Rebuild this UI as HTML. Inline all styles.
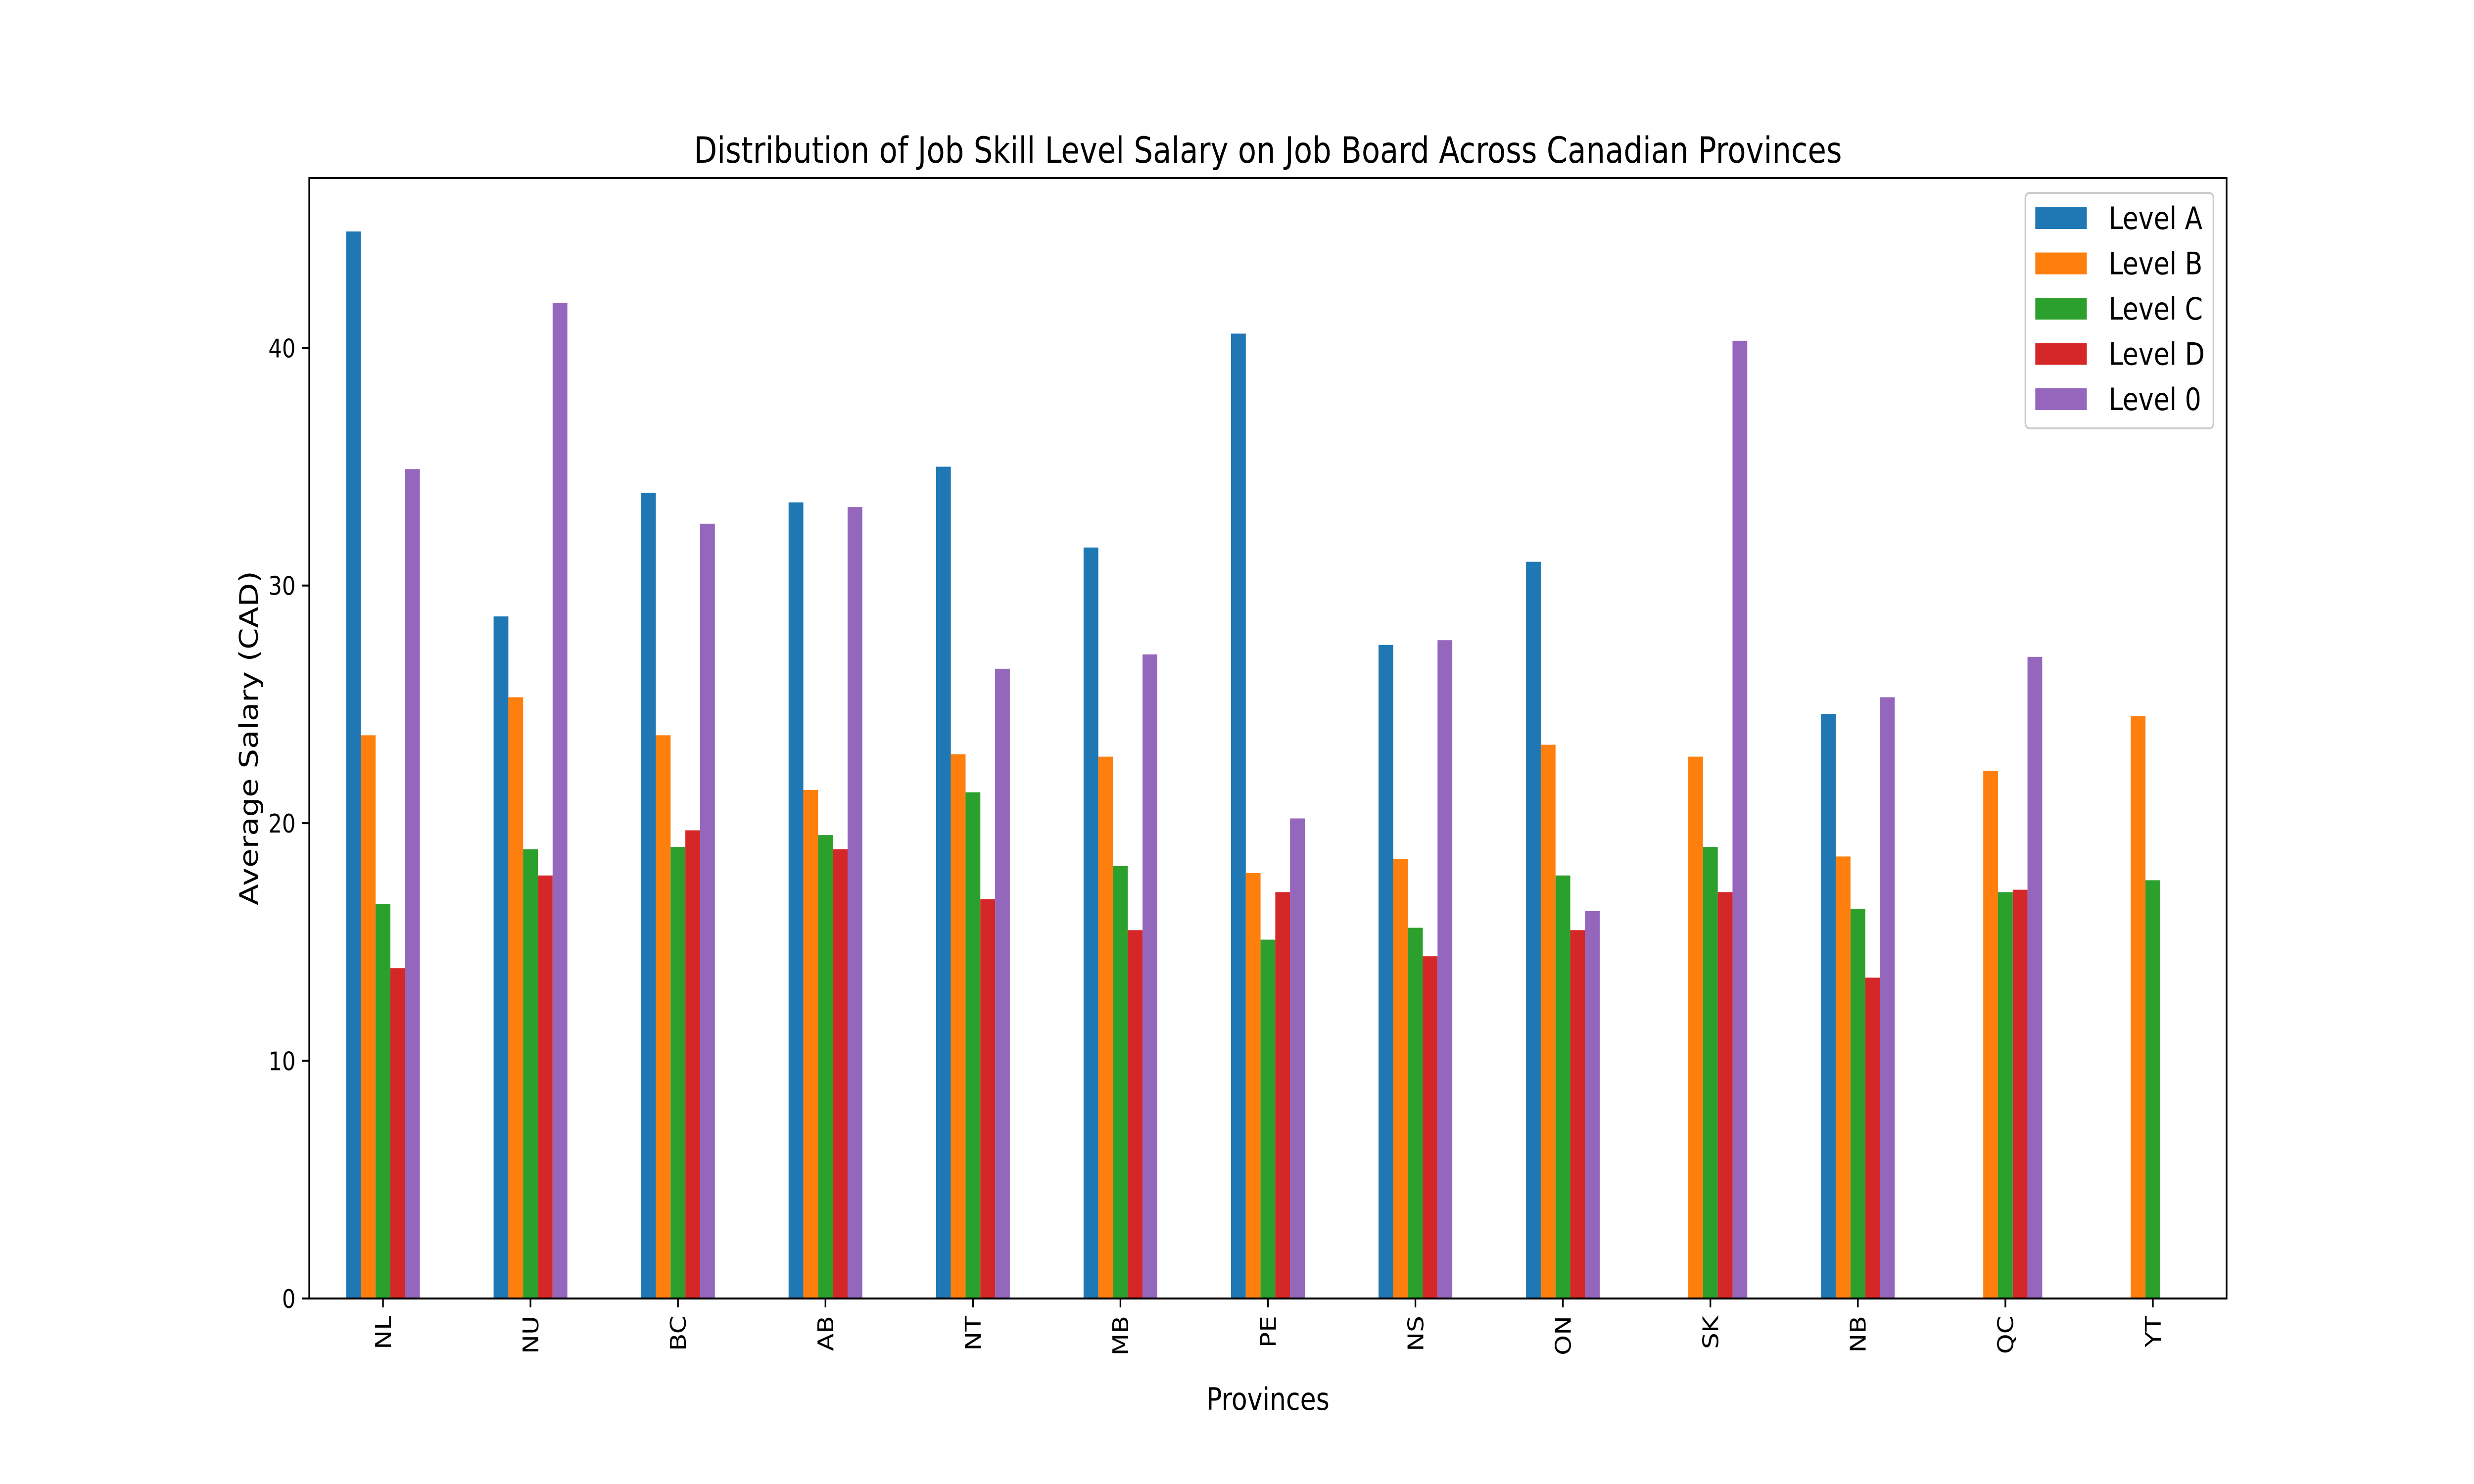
<!DOCTYPE html>
<html><head><meta charset="utf-8"><style>
html,body{margin:0;padding:0;background:#fff;width:100%;height:100%;overflow:hidden;}
svg{display:block;width:100vw;height:100vh;font-family:"DejaVu Sans","Liberation Sans",sans-serif;}
</style></head><body>
<svg id="chart" viewBox="0 0 6000 3000" preserveAspectRatio="none" xmlns="http://www.w3.org/2000/svg">
<rect x="0" y="0" width="6000" height="3000" fill="#fff"/>
<text x="3075" y="329" font-size="73" text-anchor="middle">Distribution of Job Skill Level Salary on Job Board Across Canadian Provinces</text>
<g id="bars"></g>
<g id="axes"></g>
<text x="3075" y="2850" font-size="62.5" text-anchor="middle">Provinces</text>
<text x="625" y="1492" font-size="62.5" text-anchor="middle" transform="rotate(-90 625 1492)">Average Salary (CAD)</text>
<g id="legend"></g>
</svg>
<script>
const categories = ["NL","NU","BC","AB","NT","MB","PE","NS","ON","SK","NB","QC","YT"];
const seriesNames = ["Level A","Level B","Level C","Level D","Level 0"];
const levelA = [44.9,28.7,33.9,33.5,35.0,31.6,40.6,27.5,31.0,null,24.6,null,null];
const levelB = [23.7,25.3,23.7,21.4,22.9,22.8,17.9,18.5,23.3,22.8,18.6,22.2,24.5];
const levelC = [16.6,18.9,19.0,19.5,21.3,18.2,15.1,15.6,17.8,19.0,16.4,17.1,17.6];
const levelD = [13.9,17.8,19.7,18.9,16.8,15.5,17.1,14.4,15.5,17.1,13.5,17.2,null];
const level0 = [34.9,41.9,32.6,33.3,26.5,27.1,20.2,27.7,16.3,40.3,25.3,27.0,null];
const yTicks = [0,10,20,30,40];

const series = [levelA, levelB, levelC, levelD, level0];
const colors = ["#1f77b4","#ff7f0e","#2ca02c","#d62728","#9467bd"];
const NS = "http://www.w3.org/2000/svg";
const L = 750, R = 5400, T = 360, B = 2625;
let maxV = 0;
series.forEach(s => s.forEach(v => { if (v != null && v > maxV) maxV = v; }));
const yMax = maxV * 1.05;
const xScale = i => L + (i + 0.5) * (R - L) / categories.length;
const unit = (R - L) / categories.length;
const yScale = v => B - v / yMax * (B - T);
function mk(tag, attrs, parent) {
  const e = document.createElementNS(NS, tag);
  for (const k in attrs) e.setAttribute(k, attrs[k]);
  parent.appendChild(e);
  return e;
}
const bars = document.getElementById('bars');
series.forEach((s, si) => {
  s.forEach((v, ci) => {
    if (v == null) return;
    const cx = xScale(ci) + (si - 2) * 0.1 * unit;
    const r = mk('rect', {x: cx - 0.05 * unit, y: yScale(v), width: 0.1 * unit, height: B - yScale(v), fill: colors[si]}, bars);
    
    
  });
});
const axes = document.getElementById('axes');
const frame = mk('rect', {x: L, y: T, width: R - L, height: B - T, fill: 'none', stroke: '#000', 'stroke-width': 4}, axes);


yTicks.forEach(t => {
  const y = yScale(t);
  mk('line', {x1: L - 18, x2: L, y1: y, y2: y, stroke: '#000', 'stroke-width': 4}, axes);
  const tx = mk('text', {x: L - 33, y: y + 19, 'font-size': 52, 'text-anchor': 'end'}, axes);
  tx.textContent = t;
  
  
});
categories.forEach((c, i) => {
  const x = xScale(i);
  mk('line', {x1: x, x2: x, y1: B, y2: B + 18, stroke: '#000', 'stroke-width': 4}, axes);
  const tx = mk('text', {x: x + 19, y: B + 35, 'font-size': 52, 'text-anchor': 'end', transform: 'rotate(-90 ' + (x + 19) + ' ' + (B + 35) + ')'}, axes);
  tx.textContent = c;
  
  
});
const lg = document.getElementById('legend');
mk('rect', {x: 4912, y: 390, width: 456, height: 476, rx: 10, fill: '#fff', 'fill-opacity': 0.8, stroke: '#ccc', 'stroke-width': 4}, lg);
seriesNames.forEach((n, i) => {
  const cy = 441 + i * 91.5;
  const p = mk('rect', {x: 4936, y: cy - 22, width: 125, height: 44, fill: colors[i]}, lg);
  
  
  const t = mk('text', {x: 5114, y: cy + 22, 'font-size': 62.5}, lg);
  t.textContent = n;
  
  
});
</script>
</body></html>
